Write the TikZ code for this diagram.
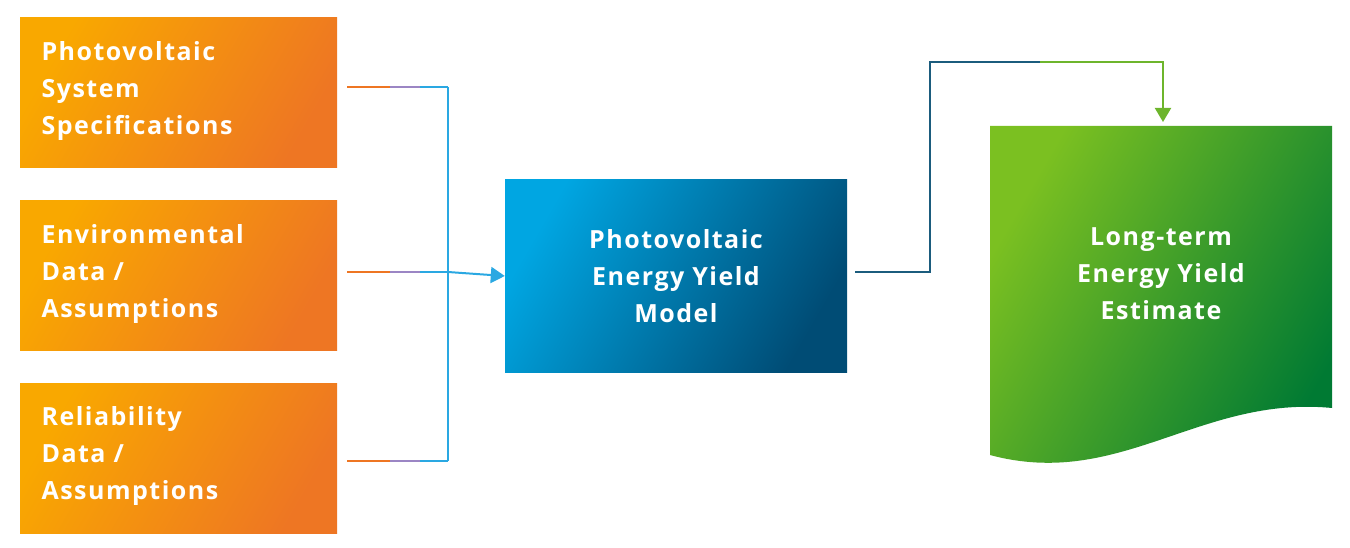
\documentclass[tikz,border=0pt]{standalone}
\usepackage{fontspec}
\setmainfont{Open Sans}[LetterSpace=6]
\usetikzlibrary{arrows.meta}
\definecolor{oA}{HTML}{F9A800}\definecolor{oB}{HTML}{EE7623}
\definecolor{bA}{HTML}{00A6E2}\definecolor{bB}{HTML}{004C75}
\definecolor{gA}{HTML}{7BC021}\definecolor{gB}{HTML}{007A33}
\definecolor{lnB}{HTML}{2AA8E2}\definecolor{lnP}{HTML}{9B86C4}
\definecolor{lnT}{HTML}{1B5C7D}\definecolor{lnG}{HTML}{6DB52C}
\begin{document}
\begin{tikzpicture}[x=1pt,y=-1pt,
  inbox/.style={minimum width=317pt,minimum height=150pt,inner sep=0pt,shading=axis,left color=oA,right color=oB,shading angle=60},
  txt/.style={text=white,font=\fontsize{25}{37}\selectfont\bfseries,align=left,anchor=north west},
  ctxt/.style={text=white,font=\fontsize{25}{37}\selectfont\bfseries,align=center},
  ln/.style={line width=2pt},
  tip/.style={-{Triangle[length=14pt,width=16pt]}}]
\useasboundingbox (0,0) rectangle (1350,548);
\node[inbox] (a) at (178.5,93) {};
\node[inbox] (b) at (178.5,275.5) {};
\node[inbox] (c) at (178.5,458) {};
\node[txt] at (38,38) {Photovoltaic\\System\\Specifications};
\node[txt] at (38,221) {Environmental\\Data /\\Assumptions};
\node[txt] at (38,403) {Reliability\\Data /\\Assumptions};
\node[minimum width=342pt,minimum height=192pt,inner sep=0pt,shading=axis,left color=bA,right color=bB,shading angle=60] (m) at (676,276) {};
\node[ctxt] at (676,276) {Photovoltaic\\Energy Yield\\Model};
\shade[shading=axis,left color=gA,right color=gB,shading angle=60] (990,126) -- (1332,126) -- (1332,408) .. controls (1200,395) and (1120,490) .. (990,455) -- cycle;
\coordinate (d) at (1161,126);
\node[ctxt] (dt) at (1161,274) {Long-term\\Energy Yield\\Estimate};
% input lines
\foreach \y in {87,272,461}{
  \draw[ln,oB] (347,\y) -- (390,\y);
  \draw[ln,lnP] (390,\y) -- (420,\y);
  \draw[ln,lnB] (420,\y) -- (448,\y);}
\draw[ln,lnB] (448,87) -- (448,461);
\draw[ln,lnB,tip] (448,272) -- (m.west);
% output line
\draw[ln,lnT] (855,272) -- (930,272) -- (930,62) -- (1040,62);
\draw[ln,lnG,tip] (1040,62) -- (1163,62) -- (1163,122);
\end{tikzpicture}
\end{document}
